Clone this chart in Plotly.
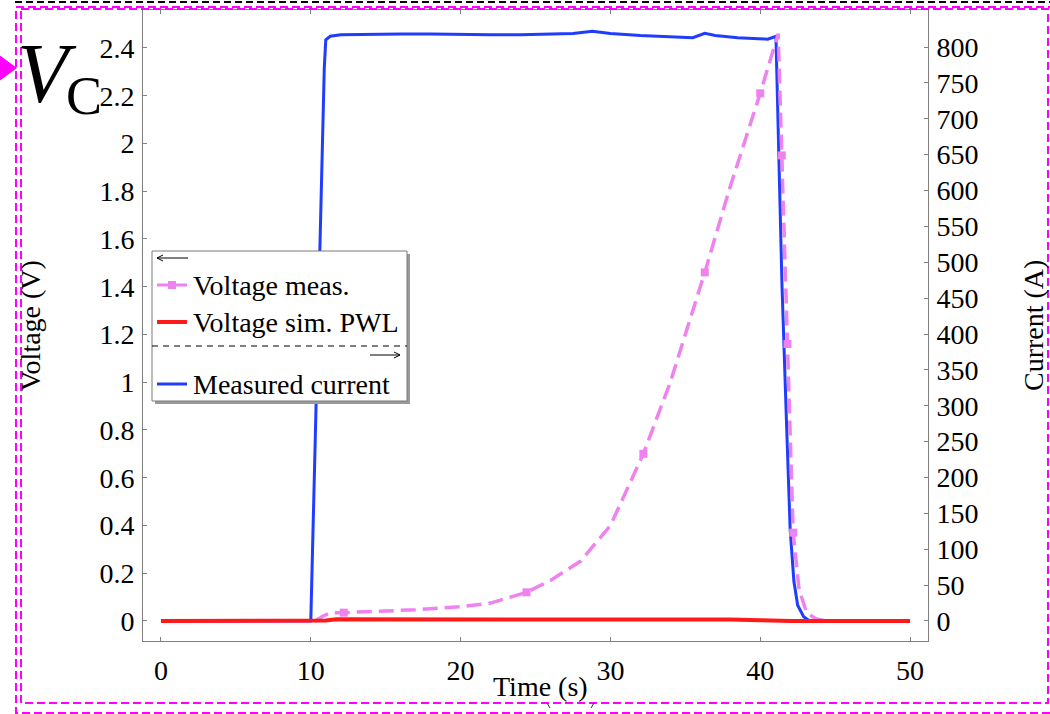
import plotly.graph_objects as go

# ---- data -------------------------------------------------------------
# measured current (A)
current_t = [0, 10.0, 10.3, 10.6, 10.9, 11.0, 11.3, 12, 14, 16, 18, 20, 22, 24, 26,
             27.5, 28.8, 30, 32, 33.8, 35.5, 36.3, 37, 38.5, 40.5, 41.05, 41.2, 41.45,
             41.75, 42.0, 42.25, 42.5, 42.9, 43.3, 45, 50]
current_a = [0, 0, 255, 510, 770, 810, 815, 817, 818, 818, 818, 817, 817, 817, 818,
             819, 822, 819, 816, 814, 813, 819, 816, 813, 811, 815, 690, 470,
             280, 127, 55, 22, 6, 0, 0, 0]

# measured voltage (V)
meas_t = [0, 10.3, 10.8, 11.3, 12.2, 14, 17, 20, 22, 24.4, 26, 28, 30, 32.2, 34, 36.3,
          38, 40, 41.0, 41.2, 41.44, 41.82, 42.2, 42.6, 43.1, 43.7, 44.4, 50]
meas_v = [0, 0, 0.02, 0.035, 0.035, 0.04, 0.047, 0.06, 0.075, 0.12, 0.17, 0.25, 0.4,
          0.70, 1.0, 1.46, 1.82, 2.21, 2.42, 2.46, 1.95, 1.16, 0.37, 0.13, 0.035, 0.01, 0, 0]
meas_marker_t = [12.2, 24.4, 32.2, 36.3, 40, 41.44, 41.82, 42.2]
meas_marker_v = [0.035, 0.12, 0.70, 1.46, 2.21, 1.95, 1.16, 0.37]

# simulated voltage, piece-wise linear model (V)
sim_t = [0, 10.5, 11.0, 11.7, 15, 20, 25, 30, 34, 36.3, 38, 40, 41, 42, 50]
sim_v = [0, 0, 0.002, 0.007, 0.007, 0.007, 0.008, 0.008, 0.008, 0.008, 0.006, 0.003,
         0.001, 0, 0]

# tick labels
time_ticks = [0, 10, 20, 30, 40, 50]
volt_ticks = [0, 0.2, 0.4, 0.6, 0.8, 1, 1.2, 1.4, 1.6, 1.8, 2, 2.2, 2.4]
volt_labels = ["0", "0.2", "0.4", "0.6", "0.8", "1", "1.2", "1.4", "1.6", "1.8", "2",
               "2.2", "2.4"]
curr_ticks = list(range(0, 801, 50))

legend_labels = ["Voltage meas.", "Voltage sim. PWL", "Measured current"]

# ---- styling ------------------------------------------------------------
W, H = 1050, 714
L, R, T, B = 143, 928, 10, 641          # plot area edges in pixels
FONT = "Liberation Serif"
FS = 28
BLUE = "#1f3cff"
RED = "#ff1a1a"
PINK = "#ee82ee"
MAGENTA = "#ff00ff"
AXIS = "#808080"


def px(x):
    return (x - L) / (R - L)


def py(y):
    return (B - y) / (B - T)


fig = go.Figure()

# current on the primary (right-hand) axis, drawn underneath
fig.add_trace(go.Scatter(x=current_t, y=current_a, mode="lines", yaxis="y",
                         line=dict(color=BLUE, width=3), showlegend=False))
# voltages on the overlaying left-hand axis
fig.add_trace(go.Scatter(x=meas_t, y=meas_v, mode="lines", yaxis="y2",
                         line=dict(color=PINK, width=3.5, dash="15px,7px"),
                         showlegend=False))
fig.add_trace(go.Scatter(x=meas_marker_t, y=meas_marker_v, mode="markers", yaxis="y2",
                         marker=dict(color=PINK, size=8, symbol="square"),
                         showlegend=False))
fig.add_trace(go.Scatter(x=sim_t, y=sim_v, mode="lines", yaxis="y2",
                         line=dict(color=RED, width=4), showlegend=False))

axis_common = dict(showline=True, linecolor=AXIS, linewidth=1, ticks="inside",
                   ticklen=4, tickcolor=AXIS, showgrid=False, zeroline=False,
                   tickfont=dict(family=FONT, size=FS, color="black"))

fig.update_layout(
    width=W, height=H,
    margin=dict(l=L, r=W - R, t=T, b=H - B),
    paper_bgcolor="white", plot_bgcolor="white",
    showlegend=False,
    xaxis=dict(range=[-1.2, 51.2], tickvals=time_ticks, mirror="ticks",
               ticklabelstandoff=4, **axis_common),
    yaxis=dict(range=[-27.9, 851.6], tickvals=curr_ticks, side="right",
               ticklabelstandoff=2, **axis_common),
    yaxis2=dict(range=[-0.0838, 2.559], tickvals=volt_ticks, ticktext=volt_labels,
                side="left", overlaying="y", ticklabelstandoff=2, **axis_common),
)

shapes = []
annotations = []


def label(x, y, text, size=FS, angle=0, xanchor="center"):
    annotations.append(dict(x=px(x), y=py(y), xref="paper", yref="paper",
                            text=text, textangle=angle, showarrow=False,
                            xanchor=xanchor, yanchor="middle", borderpad=0,
                            font=dict(family=FONT, size=size, color="black")))


def seg(x0, y0, x1, y1, color="black", width=1, dash=None, layer="above"):
    line = dict(color=color, width=width)
    if dash:
        line["dash"] = dash
    shapes.append(dict(type="line", xref="paper", yref="paper",
                       x0=px(x0), x1=px(x1), y0=py(y0), y1=py(y1),
                       line=line, layer=layer))


def arrow_head(x, y, direction):
    # open chevron arrowhead pointing left (-1) or right (+1)
    d = -6 * direction
    shapes.append(dict(type="path", xref="paper", yref="paper",
                       path="M {} {} L {} {} L {} {}".format(
                           px(x + d), py(y - 3), px(x), py(y), px(x + d), py(y + 3)),
                       line=dict(color="black", width=1), layer="above"))


# axis titles
label(540, 686, "Time (s)")
label(30, 326, "Voltage (V)", angle=-90)
label(1033, 326, "Current (A)", angle=-90)

# ---- legend box -----------------------------------------------------------
bx0, by0, bx1, by1 = 152, 251, 407, 401
shapes.append(dict(type="rect", xref="paper", yref="paper",
                   x0=px(bx0 + 3), x1=px(bx1 + 3), y0=py(by0 + 3), y1=py(by1 + 3),
                   line=dict(width=0), fillcolor="#9a9a9a", layer="above"))
shapes.append(dict(type="rect", xref="paper", yref="paper",
                   x0=px(bx0), x1=px(bx1), y0=py(by0), y1=py(by1),
                   line=dict(color="#7a7a7a", width=1), fillcolor="white", layer="above"))

# left-pointing arrow (voltage entries belong to the left axis)
seg(157, 258, 188, 258)
arrow_head(157, 258, -1)
# separator between the axes groups
seg(bx0, 346, bx1, 346, dash="6px,5px")
# right-pointing arrow (current entry belongs to the right axis)
seg(370, 355, 400, 355)
arrow_head(400, 355, 1)

entry_y = [285, 322, 384]
entry_style = [(PINK, 3), (RED, 4), (BLUE, 3)]
for text, yy, (col, wd) in zip(legend_labels, entry_y, entry_style):
    seg(157, yy, 187, yy, color=col, width=wd)
    label(192, yy, text, xanchor="left")
# square marker on the measured-voltage entry
shapes.append(dict(type="rect", xref="paper", yref="paper",
                   x0=px(168), x1=px(176), y0=py(289), y1=py(281),
                   line=dict(width=0), fillcolor=PINK, layer="above"))

# ---- frame decorations ------------------------------------------------------
seg(15, 2, 1050, 2, width=2, dash="7px,4px", layer="below")
shapes.append(dict(type="rect", xref="paper", yref="paper",
                   x0=px(16), x1=px(1056), y0=py(7), y1=py(713),
                   line=dict(color=MAGENTA, width=2, dash="8px,4px")))
shapes.append(dict(type="rect", xref="paper", yref="paper",
                   x0=px(21), x1=px(1048), y0=py(9), y1=py(703),
                   line=dict(color=MAGENTA, width=2, dash="8px,4px")))
# pointer triangle on the left edge
shapes.append(dict(type="path", xref="paper", yref="paper",
                   path="M {} {} L {} {} L {} {} Z".format(px(-2), py(54), px(17), py(68),
                                                           px(-2), py(82)),
                   line=dict(width=0), fillcolor=MAGENTA))
# remnants of a bracketed caption below the frame
seg(547, 703, 550, 708, color="#333333")
seg(594, 703, 591, 708, color="#333333")

# V_C label
annotations.append(dict(x=px(78), y=py(73), xref="paper", yref="paper",
                        text="<i>V</i>", showarrow=False, borderpad=0,
                        xanchor="right", yanchor="middle",
                        font=dict(family=FONT, size=84, color="black")))
annotations.append(dict(x=px(103), y=py(96), xref="paper", yref="paper",
                        text="C", showarrow=False, borderpad=0,
                        xanchor="right", yanchor="middle",
                        font=dict(family=FONT, size=54, color="black")))

fig.update_layout(shapes=shapes, annotations=annotations)

fig.write_html("out.html")
